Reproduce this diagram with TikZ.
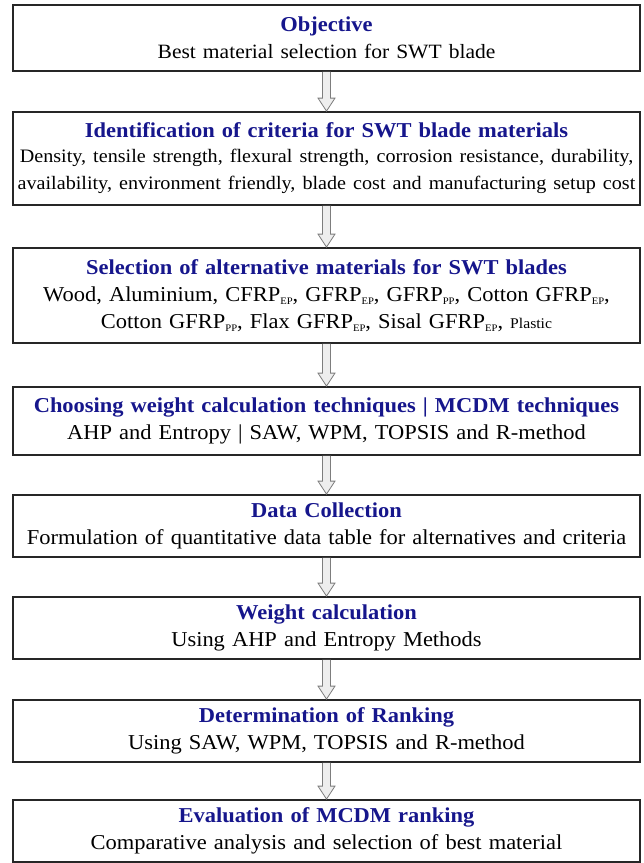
\documentclass[tikz,border=0pt]{standalone}
\usepackage{fontspec}
\setmainfont{Liberation Serif}[FakeStretch=1.06]
\usetikzlibrary{calc}
\definecolor{titleblue}{RGB}{22,22,140}
\definecolor{arrowline}{RGB}{125,125,125}
\definecolor{arrowfill}{RGB}{238,238,238}
\newcommand{\lowtext}[1]{\raisebox{-3.5pt}{\fontsize{10}{10}\selectfont #1}}
\newcommand{\stagehead}[1]{\textcolor{titleblue}{\textbf{#1}}}

\begin{document}
\begin{tikzpicture}[x=1pt,y=-1pt,
	stagebox/.style={draw=black!85, line width=1.8pt, minimum width=627pt,
		text width=624pt, align=center, inner sep=0pt,
		font=\fontsize{21.2}{27}\selectfont},
	flowarrow/.style={draw=arrowline, fill=arrowfill, line width=0.8pt, line join=miter}]
	\useasboundingbox (0,0) rectangle (644,863);
	% stages of the flow chart
	\node[stagebox, minimum height=66pt] (objective) at (326.5,38) {\stagehead{Objective}\\ {\fontsize{20.3}{26}\selectfont Best material selection for SWT blade}};
	\node[stagebox, minimum height=93pt] (criteria) at (326.5,158.5) {\stagehead{Identification of criteria for SWT blade materials}\\ {\fontsize{19}{25}\selectfont Density, tensile strength, flexural strength, corrosion resistance, durability,\\ availability, environment friendly, blade cost and manufacturing setup cost}};
	\node[stagebox, minimum height=95pt] (materials) at (326.5,295.5) {\stagehead{Selection of alternative materials for SWT blades}\\ Wood, Aluminium, CFRP\lowtext{EP}, GFRP\lowtext{EP}, GFRP\lowtext{PP}, Cotton GFRP\lowtext{EP},\\ Cotton GFRP\lowtext{PP}, Flax GFRP\lowtext{EP}, Sisal GFRP\lowtext{EP}, {\fontsize{14.8}{14}\selectfont Plastic}};
	\node[stagebox, minimum height=68pt] (techniques) at (326.5,421) {\stagehead{Choosing weight calculation techniques | MCDM techniques}\\ AHP and Entropy | SAW, WPM, TOPSIS and R-method};
	\node[stagebox, minimum height=62pt] (data) at (326.5,526) {\stagehead{Data Collection}\\ Formulation of quantitative data table for alternatives and criteria};
	\node[stagebox, minimum height=62pt] (weights) at (326.5,628) {\stagehead{Weight calculation}\\ Using AHP and Entropy Methods};
	\node[stagebox, minimum height=62pt] (ranking) at (326.5,731) {\stagehead{Determination of Ranking}\\ Using SAW, WPM, TOPSIS and R-method};
	\node[stagebox, minimum height=62pt] (evaluation) at (326.5,831) {\stagehead{Evaluation of MCDM ranking}\\ Comparative analysis and selection of best material};
	% hollow arrows between the stages
	\foreach \a/\b in {objective/criteria, criteria/materials, materials/techniques, techniques/data, data/weights, weights/ranking, ranking/evaluation}
		\draw[flowarrow] ($(\a.south)+(-4,0)$) -- ($(\b.north)+(-4,-13)$) -- ++(-4.5,0) -- (\b.north) -- ++(8.5,-13) -- ++(-4.5,0) -- ($(\a.south)+(4,0)$);
\end{tikzpicture}
\end{document}
